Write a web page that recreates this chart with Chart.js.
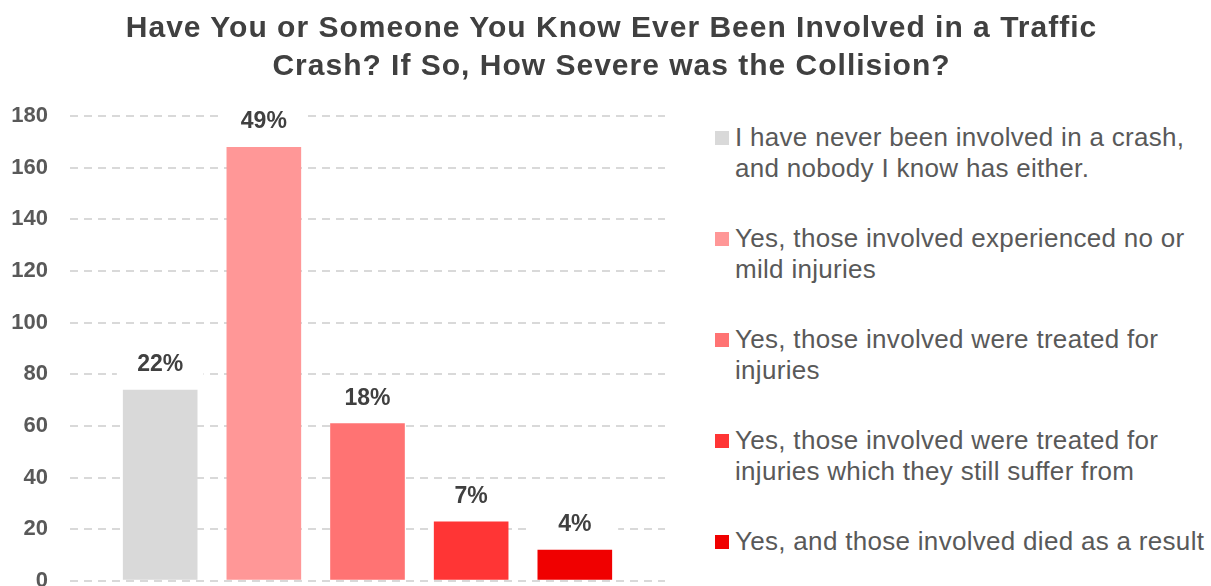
<!DOCTYPE html>
<html>
<head>
<meta charset="utf-8">
<script src="https://cdn.jsdelivr.net/npm/chart.js@4.4.1/dist/chart.umd.min.js"></script>
<style>
  html, body { margin: 0; padding: 0; background: #fff; overflow: hidden; }
  #wrap { position: relative; width: 1211px; height: 586px; overflow: hidden; font-family: 'Liberation Sans', Arial, sans-serif; }
  #chart { position: absolute; left: 0; top: 0; }
  #title { position: absolute; left: 0; top: 8px; width: 1223px; text-align: center; font-size: 30px; font-weight: bold; line-height: 38px; letter-spacing: 1px; color: #404040; }
  #legend { position: absolute; left: 715px; top: 122px; font-size: 26px; line-height: 31px; letter-spacing: 0.3px; color: #595959; }
  .item { position: relative; height: 101px; padding-left: 20px; white-space: nowrap; }
  .box { position: absolute; left: 0; top: 9px; width: 14px; height: 14px; }
</style>
</head>
<body>
<div id="wrap">
  <canvas id="chart" width="680" height="616"></canvas>
  <div id="title"></div>
  <div id="legend"></div>
</div>
<script>
// Data
var categories = [
  ['I have never been involved in a crash,', 'and nobody I know has either.'],
  ['Yes, those involved experienced no or', 'mild injuries'],
  ['Yes, those involved were treated for', 'injuries'],
  ['Yes, those involved were treated for', 'injuries which they still suffer from'],
  ['Yes, and those involved died as a result']
];
var counts = [74, 168, 61, 23, 12];
var pctLabels = ['22%', '49%', '18%', '7%', '4%'];
var colors = ['#D9D9D9', '#FF9797', '#FF7373', '#FF3535', '#F00000'];
var yTicks = [0, 20, 40, 60, 80, 100, 120, 140, 160, 180];
var titleLines = ['Have You or Someone You Know Ever Been Involved in a Traffic', 'Crash? If So, How Severe was the Collision?'];

var FONT = "'Liberation Sans', Arial, sans-serif";

document.getElementById('title').innerHTML = titleLines.join('<br>');

// legend (html)
document.getElementById('legend').innerHTML = categories.map(function (c, i) {
  return '<div class="item"><span class="box" style="background:' + colors[i] + '"></span>' + c.join('<br>') + '</div>';
}).join('');

// percentage labels above bars
var barLabels = {
  id: 'barLabels',
  afterDatasetsDraw: function (chart) {
    var ctx = chart.ctx;
    var meta = chart.getDatasetMeta(0);
    ctx.save();
    ctx.font = 'bold 23px ' + FONT;
    ctx.textAlign = 'center';
    ctx.textBaseline = 'middle';
    meta.data.forEach(function (bar, i) {
      var y = bar.y - 25;
      ctx.fillStyle = '#fff';
      ctx.fillRect(bar.x - bar.width / 2 - 6, y - 13, bar.width + 12, 26);
      ctx.fillStyle = '#404040';
      ctx.fillText(pctLabels[i], bar.x, y);
    });
    ctx.restore();
  }
};

new Chart(document.getElementById('chart').getContext('2d'), {
  type: 'bar',
  data: {
    datasets: [{
      data: counts.map(function (v, i) { return { x: i + 1, y: v }; }),
      backgroundColor: colors,
      borderWidth: 0,
      categoryPercentage: 1,
      barPercentage: 0.72
    }]
  },
  options: {
    responsive: false,
    maintainAspectRatio: false,
    animation: false,
    layout: { padding: { left: 10, right: 15, top: 116, bottom: 0 } },
    plugins: {
      legend: { display: false },
      tooltip: { enabled: false }
    },
    scales: {
      x: {
        type: 'linear', display: false, offset: false, min: 0.13, max: 5.87,
        // one tick per bar so the bar width follows the bar spacing
        afterBuildTicks: function (axis) { axis.ticks = counts.map(function (v, i) { return { value: i + 1 }; }); }
      },
      y: {
        min: 0, max: 180,
        afterBuildTicks: function (axis) { axis.ticks = yTicks.map(function (v) { return { value: v }; }); },
        afterFit: function (axis) { axis.width = 60; },
        grid: { color: '#D9D9D9', lineWidth: 2, drawTicks: false },
        border: { display: false, dash: [8, 6] },
        ticks: { color: '#595959', padding: 22, font: { family: FONT, size: 22, weight: 'bold' } }
      }
    }
  },
  plugins: [barLabels]
});
</script>
</body>
</html>
